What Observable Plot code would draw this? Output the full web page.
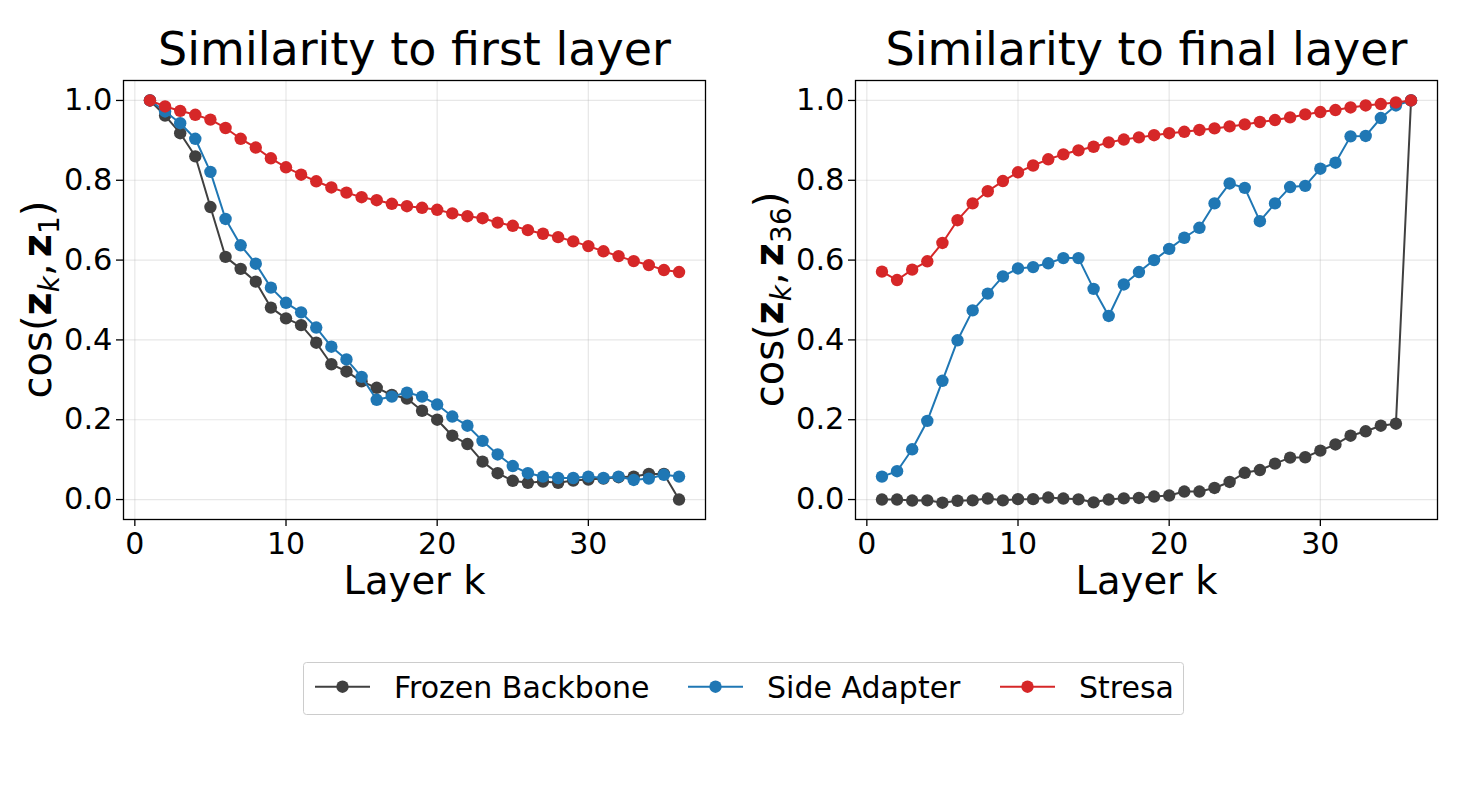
<!DOCTYPE html>
<html>
<head>
<meta charset="utf-8">
<script src="https://cdn.jsdelivr.net/npm/d3@7"></script>
<script src="https://cdn.jsdelivr.net/npm/@observablehq/plot@0.6"></script>
<style>
  body { margin: 0; background: #fff; }
  #chart { position: relative; width: 1464px; height: 786px; font-family: "DejaVu Sans", sans-serif; }
  #chart svg { position: absolute; }
</style>
</head>
<body>
<div id="chart"></div>
<script>
// Layer index k
const layers = [1, 2, 3, 4, 5, 6, 7, 8, 9, 10, 11, 12, 13, 14, 15, 16, 17, 18,
                19, 20, 21, 22, 23, 24, 25, 26, 27, 28, 29, 30, 31, 32, 33, 34, 35, 36];

const methods = ["Frozen Backbone", "Side Adapter", "Stresa"];
const colors = ["#404040", "#1f77b4", "#d62728"];

// cos(z_k, z_1)
const frozenFirst = [1.0, 0.962, 0.918, 0.86, 0.733, 0.608, 0.578, 0.546, 0.481, 0.454, 0.437, 0.393,
                     0.339, 0.321, 0.296, 0.28, 0.262, 0.253, 0.2225, 0.2, 0.16, 0.139, 0.095, 0.066,
                     0.047, 0.042, 0.045, 0.042, 0.0475, 0.05, 0.0525, 0.056, 0.0575, 0.064, 0.064, 0.0];
const adapterFirst = [1.0, 0.9725, 0.943, 0.904, 0.821, 0.703, 0.637, 0.591, 0.531, 0.493, 0.469, 0.431,
                      0.383, 0.351, 0.3075, 0.25, 0.258, 0.268, 0.258, 0.238, 0.208, 0.185, 0.147, 0.113,
                      0.084, 0.066, 0.0575, 0.054, 0.054, 0.0575, 0.054, 0.0575, 0.049, 0.0525, 0.062, 0.0575];
const stresaFirst = [1.0, 0.985, 0.974, 0.964, 0.952, 0.931, 0.904, 0.882, 0.855, 0.8325, 0.814, 0.7975,
                     0.782, 0.769, 0.7575, 0.75, 0.741, 0.735, 0.731, 0.726, 0.717, 0.71, 0.705, 0.694,
                     0.686, 0.675, 0.666, 0.6575, 0.647, 0.635, 0.622, 0.61, 0.5975, 0.5875, 0.575, 0.57];

// cos(z_k, z_36)
const frozenFinal = [0.0, 0.0, -0.0025, -0.002, -0.008, -0.003, -0.002, 0.0025, -0.002, 0.001, 0.001, 0.005,
                     0.0025, 0.0005, -0.007, 0.0, 0.003, 0.004, 0.0075, 0.01, 0.02, 0.02, 0.029, 0.044,
                     0.067, 0.074, 0.09, 0.105, 0.106, 0.1225, 0.138, 0.16, 0.171, 0.185, 0.19, 1.0];
const adapterFinal = [0.0575, 0.071, 0.126, 0.197, 0.2975, 0.399, 0.474, 0.516, 0.559, 0.579, 0.5825, 0.592,
                      0.605, 0.605, 0.528, 0.46, 0.539, 0.57, 0.60, 0.628, 0.656, 0.681, 0.742, 0.792,
                      0.781, 0.6975, 0.742, 0.783, 0.786, 0.829, 0.844, 0.91, 0.911, 0.956, 0.9875, 1.0];
const stresaFinal = [0.571, 0.55, 0.576, 0.597, 0.643, 0.70, 0.742, 0.7725, 0.798, 0.82, 0.837, 0.8525,
                     0.865, 0.875, 0.884, 0.895, 0.902, 0.9075, 0.913, 0.918, 0.9215, 0.926, 0.93, 0.935,
                     0.94, 0.946, 0.951, 0.9575, 0.965, 0.971, 0.976, 0.9825, 0.9875, 0.991, 0.995, 1.0];

const xTicks = [0, 10, 20, 30];
const yTicks = [0.0, 0.2, 0.4, 0.6, 0.8, 1.0];

const chart = document.getElementById("chart");
const dotR = 6.2;

function panel({title, series, sub, left}) {
  const tables = series.map((vals, i) =>
    layers.map((k, j) => ({layer: k, value: vals[j], method: methods[i]})));

  const marks = [
    Plot.gridX(xTicks, {stroke: "#b0b0b0", strokeOpacity: 0.3, strokeWidth: 1.2}),
    Plot.gridY(yTicks, {stroke: "#b0b0b0", strokeOpacity: 0.3, strokeWidth: 1.2})
  ];
  tables.forEach((t, i) => {
    marks.push(Plot.line(t, {x: "layer", y: "value", stroke: colors[i], strokeWidth: 2}));
    marks.push(Plot.dot(t, {x: "layer", y: "value", fill: colors[i], r: dotR}));
  });
  marks.push(
    Plot.frame({stroke: "black", strokeWidth: 1.3}),
    Plot.axisX(xTicks, {tickSize: 7, tickPadding: 6, fontSize: 30, label: null, strokeWidth: 1.3}),
    Plot.axisY(yTicks, {tickSize: 7, tickPadding: 4, fontSize: 30.5, label: null, strokeWidth: 1.3,
                        tickFormat: d3.format(".1f")}),
    Plot.text([title], {text: d => d, frameAnchor: "top", lineAnchor: "bottom", dy: -16, fontSize: 46}),
    Plot.text(["Layer k"], {text: d => d, frameAnchor: "bottom", lineAnchor: "bottom", dy: 74, fontSize: 38.5})
  );

  const svg = Plot.plot({
    width: 732, height: 620,
    marginLeft: 123, marginRight: 27, marginTop: 80, marginBottom: 101,
    x: {domain: [-0.75, 37.75]},
    y: {domain: [-0.05, 1.05]},
    style: {fontFamily: '"DejaVu Sans", sans-serif', background: "white", color: "black", overflow: "visible"},
    marks
  });

  // y label: cos(z_k, z_sub) with bold vectors and subscripts
  const lab = d3.select(svg).append("text")
    .attr("transform", "translate(51,299.5) rotate(-90)")
    .attr("text-anchor", "middle")
    .attr("font-size", 40)
    .attr("fill", "black");
  lab.append("tspan").text("cos(");
  lab.append("tspan").attr("font-weight", "bold").text("z");
  lab.append("tspan").attr("font-size", 28).attr("font-style", "italic").attr("dy", 8).text("k");
  lab.append("tspan").attr("dy", -8).text(",");
  lab.append("tspan").attr("dx", 6).attr("font-weight", "bold").text("z");
  lab.append("tspan").attr("font-size", 28).attr("dy", 8).text(sub);
  lab.append("tspan").attr("dy", -8).text(")");

  svg.style.left = left + "px";
  svg.style.top = "0px";
  chart.appendChild(svg);
}

panel({title: "Similarity to first layer", series: [frozenFirst, adapterFirst, stresaFirst], sub: "1", left: 0});
panel({title: "Similarity to final layer", series: [frozenFinal, adapterFinal, stresaFinal], sub: "36", left: 732});

// Shared legend below both panels
const legendItems = [
  {name: methods[0], color: colors[0], x: 12, tx: 91},
  {name: methods[1], color: colors[1], x: 385, tx: 464},
  {name: methods[2], color: colors[2], x: 697, tx: 776}
];
const leg = d3.select(chart).append("svg")
  .attr("width", 881).attr("height", 53)
  .style("left", "303px").style("top", "662px")
  .style("font-family", '"DejaVu Sans", sans-serif');
leg.append("rect").attr("x", 0.5).attr("y", 0.5).attr("width", 880).attr("height", 52)
  .attr("rx", 3).attr("fill", "white").attr("stroke", "#cccccc").attr("stroke-width", 1);
legendItems.forEach(it => {
  leg.append("line").attr("x1", it.x).attr("x2", it.x + 55).attr("y1", 24.7).attr("y2", 24.7)
    .attr("stroke", it.color).attr("stroke-width", 2);
  leg.append("circle").attr("cx", it.x + 27.5).attr("cy", 24.7).attr("r", dotR).attr("fill", it.color);
  leg.append("text").attr("x", it.tx).attr("y", 35.5).attr("font-size", 30).attr("fill", "black").text(it.name);
});
</script>
</body>
</html>
